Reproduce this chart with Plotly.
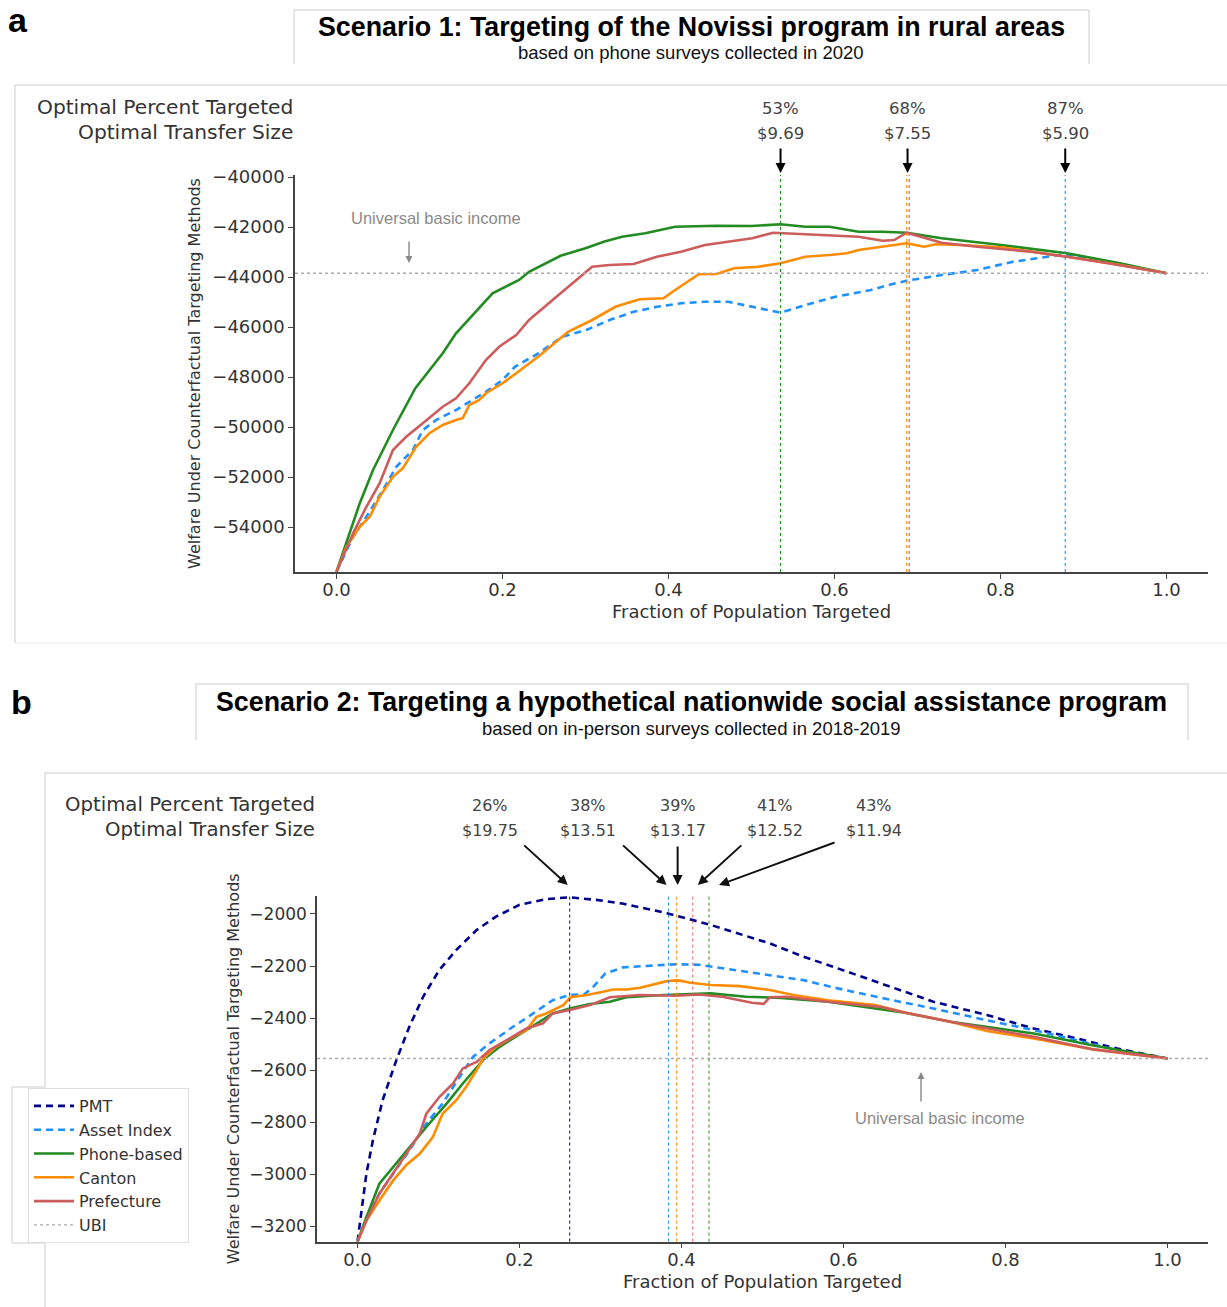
import plotly.graph_objects as go

W, H = 1227, 1307

# ---------------- Panel a data (Scenario 1) ----------------
a_phone_x = [0, 0.012, 0.028, 0.044, 0.068, 0.095, 0.128, 0.144, 0.164, 0.188, 0.220, 0.232, 0.270, 0.300, 0.322, 0.344, 0.372, 0.408, 0.458, 0.500, 0.535, 0.565, 0.594, 0.629, 0.658, 0.687, 0.729, 0.801, 0.880, 0.944, 1.0]
a_phone_y = [-55790, -54650, -53050, -51720, -50120, -48450, -47050, -46250, -45520, -44650, -44120, -43790, -43150, -42850, -42590, -42390, -42250, -41990, -41950, -41960, -41890, -41990, -41990, -42190, -42190, -42230, -42450, -42720, -43050, -43450, -43850]

a_pref_x = [0, 0.020, 0.036, 0.052, 0.068, 0.084, 0.104, 0.128, 0.144, 0.160, 0.180, 0.196, 0.2165, 0.232, 0.270, 0.308, 0.329, 0.358, 0.386, 0.415, 0.444, 0.472, 0.501, 0.526, 0.558, 0.601, 0.629, 0.658, 0.672, 0.687, 0.729, 0.772, 0.837, 0.880, 0.930, 1.0]
a_pref_y = [-55790, -54250, -53190, -52250, -50920, -50390, -49850, -49190, -48850, -48250, -47320, -46790, -46320, -45720, -44650, -43590, -43520, -43480, -43190, -42990, -42720, -42590, -42450, -42230, -42280, -42350, -42390, -42550, -42520, -42230, -42630, -42790, -42990, -43190, -43450, -43850]

a_canton_x = [0, 0.012, 0.028, 0.040, 0.052, 0.068, 0.080, 0.096, 0.112, 0.128, 0.144, 0.152, 0.160, 0.172, 0.180, 0.200, 0.2165, 0.2445, 0.279, 0.308, 0.336, 0.365, 0.394, 0.408, 0.4365, 0.458, 0.479, 0.508, 0.535, 0.565, 0.594, 0.615, 0.629, 0.658, 0.687, 0.708, 0.722, 0.751, 0.801, 0.880, 0.944, 1.0]
a_canton_y = [-55790, -54790, -53990, -53590, -52790, -51990, -51650, -50790, -50250, -49920, -49720, -49650, -49120, -48920, -48650, -48250, -47850, -47150, -46190, -45720, -45190, -44890, -44850, -44520, -43890, -43880, -43650, -43590, -43450, -43190, -43120, -43050, -42920, -42790, -42650, -42790, -42690, -42720, -42810, -43190, -43520, -43850]

a_asset_x = [0, 0.020, 0.036, 0.056, 0.072, 0.092, 0.104, 0.120, 0.144, 0.160, 0.180, 0.200, 0.215, 0.2435, 0.272, 0.301, 0.329, 0.358, 0.386, 0.415, 0.444, 0.472, 0.501, 0.535, 0.565, 0.601, 0.644, 0.665, 0.687, 0.729, 0.772, 0.815, 0.844, 0.872, 0.880, 0.940, 1.0]
a_asset_y = [-55790, -54390, -53590, -52520, -51590, -50920, -50120, -49720, -49320, -48990, -48590, -48120, -47590, -47050, -46390, -46120, -45720, -45390, -45190, -45050, -44990, -44990, -45190, -45430, -45120, -44790, -44520, -44320, -44150, -43920, -43720, -43390, -43250, -43120, -43130, -43480, -43850]

a_ubi = -43850
a_opt_names = ["Phone-based", "Canton", "Prefecture", "Asset Index"]
a_opt_x = [0.535, 0.687, 0.690, 0.878]
a_label_x = [0.535, 0.688, 0.878]
a_label_pct = ["53%", "68%", "87%"]
a_label_size = ["$9.69", "$7.55", "$5.90"]

a_yticks = [-54000, -52000, -50000, -48000, -46000, -44000, -42000, -40000]
a_yticktext = ["\u221254000", "\u221252000", "\u221250000", "\u221248000", "\u221246000", "\u221244000", "\u221242000", "\u221240000"]

# ---------------- Panel b data (Scenario 2) ----------------
b_pmt_x = [0, 0.0045, 0.011, 0.019, 0.031, 0.048, 0.064, 0.081, 0.101, 0.122, 0.147, 0.171, 0.200, 0.233, 0.262, 0.295, 0.327, 0.382, 0.436, 0.509, 0.5505, 0.5875, 0.641, 0.711, 0.777, 0.835, 0.888, 0.938, 1.0]
b_pmt_y = [-3258, -3151, -2997, -2869, -2715, -2561, -2433, -2318, -2215, -2138, -2062, -2010, -1965, -1943, -1936, -1946, -1960, -1997, -2042, -2113, -2164, -2203, -2260, -2337, -2388, -2440, -2478, -2517, -2555]

b_asset_x = [0, 0.011, 0.027, 0.044, 0.064, 0.085, 0.105, 0.126, 0.1425, 0.163, 0.192, 0.217, 0.241, 0.262, 0.280, 0.291, 0.306, 0.328, 0.3635, 0.393, 0.4215, 0.4505, 0.509, 0.5505, 0.5875, 0.649, 0.711, 0.777, 0.835, 0.888, 0.938, 1.0]
b_asset_y = [-3258, -3164, -3074, -2997, -2908, -2805, -2728, -2626, -2549, -2497, -2433, -2382, -2331, -2311, -2308, -2280, -2228, -2205, -2200, -2193, -2195, -2209, -2235, -2254, -2282, -2324, -2363, -2408, -2446, -2485, -2523, -2555]

b_phone_x = [0, 0.011, 0.027, 0.044, 0.064, 0.085, 0.110, 0.130, 0.155, 0.1755, 0.2085, 0.241, 0.262, 0.287, 0.3115, 0.332, 0.378, 0.436, 0.480, 0.523, 0.581, 0.625, 0.678, 0.732, 0.777, 0.835, 0.9085, 1.0]
b_phone_y = [-3258, -3164, -3036, -2972, -2895, -2818, -2728, -2651, -2561, -2510, -2446, -2382, -2363, -2346, -2337, -2320, -2311, -2305, -2318, -2322, -2337, -2357, -2380, -2414, -2433, -2459, -2505, -2555]

b_canton_x = [0, 0.011, 0.027, 0.044, 0.060, 0.077, 0.093, 0.105, 0.122, 0.134, 0.147, 0.155, 0.171, 0.192, 0.2085, 0.221, 0.233, 0.2455, 0.254, 0.263, 0.283, 0.303, 0.3155, 0.332, 0.349, 0.382, 0.396, 0.411, 0.436, 0.472, 0.509, 0.538, 0.581, 0.639, 0.678, 0.732, 0.777, 0.835, 0.9085, 1.0]
b_canton_y = [-3258, -3177, -3100, -3023, -2965, -2920, -2857, -2767, -2715, -2664, -2600, -2555, -2510, -2472, -2446, -2395, -2382, -2363, -2350, -2320, -2311, -2299, -2290, -2290, -2283, -2258, -2255, -2264, -2273, -2277, -2292, -2311, -2331, -2350, -2380, -2414, -2449, -2478, -2520, -2555]

b_pref_x = [0, 0.011, 0.027, 0.044, 0.060, 0.077, 0.085, 0.101, 0.118, 0.130, 0.147, 0.163, 0.188, 0.2085, 0.229, 0.241, 0.262, 0.287, 0.3115, 0.332, 0.349, 0.393, 0.4215, 0.4505, 0.487, 0.5015, 0.509, 0.530, 0.581, 0.6465, 0.678, 0.732, 0.777, 0.835, 0.9085, 1.0]
b_pref_y = [-3258, -3177, -3074, -2997, -2920, -2843, -2767, -2703, -2651, -2593, -2568, -2523, -2478, -2440, -2420, -2382, -2369, -2350, -2320, -2315, -2311, -2314, -2309, -2318, -2341, -2345, -2320, -2318, -2337, -2357, -2380, -2414, -2440, -2472, -2520, -2555]

b_ubi = -2555
b_opt_names = ["PMT", "Asset Index", "Canton", "Prefecture", "Phone-based"]
b_opt_x = [0.262, 0.384, 0.394, 0.414, 0.434]
b_label_pct = ["26%", "38%", "39%", "41%", "43%"]
b_label_size = ["$19.75", "$13.51", "$13.17", "$12.52", "$11.94"]

b_yticks = [-3200, -3000, -2800, -2600, -2400, -2200, -2000]
b_yticktext = ["\u22123200", "\u22123000", "\u22122800", "\u22122600", "\u22122400", "\u22122200", "\u22122000"]

x_ticks = [0.0, 0.2, 0.4, 0.6, 0.8, 1.0]
x_ticktext = ["0.0", "0.2", "0.4", "0.6", "0.8", "1.0"]

# ---------------- styles ----------------
COL = {
    "PMT": "#00008b",
    "Asset Index": "#1e90ff",
    "Phone-based": "#228b22",
    "Canton": "#ff8c00",
    "Prefecture": "#cd5c5c",
    "UBI": "#aaaaaa",
}
DASH = {"PMT": "7px,5px", "Asset Index": "7px,5px", "Phone-based": "solid",
        "Canton": "solid", "Prefecture": "solid", "UBI": "dot"}
DV = "DejaVu Sans, sans-serif"
AR = "Liberation Sans, Arial, sans-serif"
TXT = "#333333"


def pxx(p):
    return p / W


def pxy(p):
    return 1 - p / H


fig = go.Figure()

# panel a curves
for name, xs, ys in [("Asset Index", a_asset_x, a_asset_y),
                     ("Phone-based", a_phone_x, a_phone_y),
                     ("Canton", a_canton_x, a_canton_y),
                     ("Prefecture", a_pref_x, a_pref_y)]:
    fig.add_trace(go.Scatter(x=xs, y=ys, mode="lines", name=name, showlegend=False,
                             line=dict(color=COL[name], width=2.6, dash=DASH[name]),
                             xaxis="x", yaxis="y"))
fig.add_trace(go.Scatter(x=[-0.05, 1.05], y=[a_ubi, a_ubi], mode="lines", showlegend=False,
                         line=dict(color=COL["UBI"], width=1.3, dash="dot"), xaxis="x", yaxis="y"))

# panel b curves
for name, xs, ys in [("PMT", b_pmt_x, b_pmt_y),
                     ("Asset Index", b_asset_x, b_asset_y),
                     ("Phone-based", b_phone_x, b_phone_y),
                     ("Canton", b_canton_x, b_canton_y),
                     ("Prefecture", b_pref_x, b_pref_y)]:
    fig.add_trace(go.Scatter(x=xs, y=ys, mode="lines", name=name,
                             line=dict(color=COL[name], width=2.6, dash=DASH[name]),
                             xaxis="x2", yaxis="y2"))
fig.add_trace(go.Scatter(x=[-0.05, 1.05], y=[b_ubi, b_ubi], mode="lines", name="UBI",
                         line=dict(color=COL["UBI"], width=1.3, dash="dot"), xaxis="x2", yaxis="y2"))

shapes = []
# optimal vertical lines
for name, xv in zip(a_opt_names, a_opt_x):
    shapes.append(dict(type="line", xref="x", yref="y domain", x0=xv, x1=xv, y0=0, y1=1,
                       line=dict(color=COL[name], width=1.1, dash="dot")))
for name, xv in zip(b_opt_names, b_opt_x):
    shapes.append(dict(type="line", xref="x2", yref="y2 domain", x0=xv, x1=xv, y0=0, y1=1,
                       line=dict(color=COL[name], width=1.0, dash="dot")))


def seg(x0, y0, x1, y1, color="#cccccc", width=1):
    shapes.append(dict(type="line", xref="paper", yref="paper", x0=pxx(x0), y0=pxy(y0),
                       x1=pxx(x1), y1=pxy(y1), line=dict(color=color, width=width)))


# title boxes
seg(294, 10, 1089, 10); seg(294, 10, 294, 64); seg(1089, 10, 1089, 64)
seg(196, 684, 1188, 684); seg(196, 684, 196, 740); seg(1188, 684, 1188, 740)
# panel frames
seg(15, 85, 1227, 85); seg(15, 85, 15, 643); seg(15, 643, 1227, 643, color="#e6e6e6")
seg(45, 773, 1227, 773); seg(45, 773, 45, 1087); seg(45, 1243, 45, 1307)
seg(12, 1087, 12, 1243); seg(12, 1087, 45, 1087); seg(12, 1243, 45, 1243)

ann = []
# panel letters and titles
ann.append(dict(text="<b>a</b>", x=pxx(18), y=pxy(20), xref="paper", yref="paper", showarrow=False,
                font=dict(family=AR, size=34, color="#000"), xanchor="center", yanchor="middle"))
ann.append(dict(text="<b>b</b>", x=pxx(21), y=pxy(702), xref="paper", yref="paper", showarrow=False,
                font=dict(family=AR, size=34, color="#000"), xanchor="center", yanchor="middle"))
ann.append(dict(text="<b>Scenario 1: Targeting of the Novissi program in rural areas</b>",
                x=pxx(691), y=pxy(27), xref="paper", yref="paper", showarrow=False,
                font=dict(family=AR, size=26.8, color="#000"), xanchor="center", yanchor="middle"))
ann.append(dict(text="based on phone surveys collected in 2020",
                x=pxx(691), y=pxy(53), xref="paper", yref="paper", showarrow=False,
                font=dict(family=AR, size=18.5, color="#111"), xanchor="center", yanchor="middle"))
ann.append(dict(text="<b>Scenario 2: Targeting a hypothetical nationwide social assistance program</b>",
                x=pxx(691), y=pxy(702), xref="paper", yref="paper", showarrow=False,
                font=dict(family=AR, size=26.8, color="#000"), xanchor="center", yanchor="middle"))
ann.append(dict(text="based on in-person surveys collected in 2018-2019",
                x=pxx(691), y=pxy(728), xref="paper", yref="paper", showarrow=False,
                font=dict(family=AR, size=18.5, color="#111"), xanchor="center", yanchor="middle"))

# row headers
for yy, txt in [(107, "Optimal Percent Targeted"), (132, "Optimal Transfer Size")]:
    ann.append(dict(text=txt, x=pxx(295), y=pxy(yy), xref="paper", yref="paper", showarrow=False,
                    font=dict(family=DV, size=20.2, color=TXT), xanchor="right", yanchor="middle"))
for yy, txt in [(804, "Optimal Percent Targeted"), (829, "Optimal Transfer Size")]:
    ann.append(dict(text=txt, x=pxx(317), y=pxy(yy), xref="paper", yref="paper", showarrow=False,
                    font=dict(family=DV, size=19.7, color=TXT), xanchor="right", yanchor="middle"))

# panel a optimal labels and arrows
for xv, p, s in zip(a_label_x, a_label_pct, a_label_size):
    ann.append(dict(text=p, x=xv, xref="x", y=pxy(108), yref="paper", showarrow=False,
                    font=dict(family=DV, size=16.5, color="#444"), xanchor="center", yanchor="middle"))
    ann.append(dict(text=s, x=xv, xref="x", y=pxy(133), yref="paper", showarrow=False,
                    font=dict(family=DV, size=16.5, color="#444"), xanchor="center", yanchor="middle"))
    ann.append(dict(text="", x=xv, xref="x", y=pxy(173), yref="paper", showarrow=True,
                    ax=0, ay=-26, arrowhead=2, arrowsize=1, arrowwidth=2, arrowcolor="#000"))

# panel b optimal labels and arrows
b_label_px = [489.5, 588, 678, 775, 873.5]
b_head_shift = [-2, -2, 1, 5, 10]
b_tail = [(-45, -41), (-45, -41), (0, -40), (45, -41), (117, -43)]
for lx, p, s in zip(b_label_px, b_label_pct, b_label_size):
    ann.append(dict(text=p, x=pxx(lx), xref="paper", y=pxy(805), yref="paper", showarrow=False,
                    font=dict(family=DV, size=16, color="#444"), xanchor="center", yanchor="middle"))
    ann.append(dict(text=s, x=pxx(lx), xref="paper", y=pxy(830), yref="paper", showarrow=False,
                    font=dict(family=DV, size=16, color="#444"), xanchor="center", yanchor="middle"))
for xv, sh, (tx, ty) in zip(b_opt_x, b_head_shift, b_tail):
    ann.append(dict(text="", x=xv, xref="x2", y=pxy(885), yref="paper", xshift=sh, showarrow=True,
                    ax=tx, ay=ty, arrowhead=2, arrowsize=1, arrowwidth=2, arrowcolor="#111"))

# UBI notes
ann.append(dict(text="Universal basic income", x=pxx(436), y=pxy(218), xref="paper", yref="paper",
                showarrow=False, font=dict(family=AR, size=16.5, color="#8a8a8a"),
                xanchor="center", yanchor="middle"))
ann.append(dict(text="", x=pxx(409), y=pxy(263), xref="paper", yref="paper", showarrow=True,
                ax=0, ay=-23, arrowhead=2, arrowsize=1, arrowwidth=1.4, arrowcolor="#888"))
ann.append(dict(text="Universal basic income", x=pxx(940), y=pxy(1118), xref="paper", yref="paper",
                showarrow=False, font=dict(family=AR, size=16.5, color="#8a8a8a"),
                xanchor="center", yanchor="middle"))
ann.append(dict(text="", x=pxx(921), y=pxy(1072), xref="paper", yref="paper", showarrow=True,
                ax=0, ay=31, arrowhead=2, arrowsize=1, arrowwidth=1.4, arrowcolor="#888"))

axis_common = dict(showgrid=False, zeroline=False, showline=True, linecolor="#444", linewidth=1.5,
                   ticks="outside", ticklen=5, tickwidth=1.3, tickcolor="#444",
                   tickfont=dict(family=DV, size=18, color=TXT), automargin=False)

fig.update_layout(
    width=W, height=H, margin=dict(l=0, r=0, t=0, b=0, autoexpand=False),
    paper_bgcolor="white", plot_bgcolor="white",
    xaxis=dict(**axis_common, domain=[pxx(295), pxx(1208)], range=[-0.05, 1.05], anchor="y",
               tickvals=x_ticks, ticktext=x_ticktext, ticklabelstandoff=-4,
               title=dict(text="Fraction of Population Targeted", standoff=6,
                          font=dict(family=DV, size=18, color=TXT))),
    yaxis=dict(**axis_common, domain=[pxy(572), pxy(175)], range=[-55800, -39920], anchor="x",
               tickvals=a_yticks, ticktext=a_yticktext,
               title=dict(text="Welfare Under Counterfactual Targeting Methods", standoff=8,
                          font=dict(family=DV, size=16, color=TXT))),
    xaxis2=dict(**axis_common, domain=[pxx(317), pxx(1208)], range=[-0.05, 1.05], anchor="y2",
                tickvals=x_ticks, ticktext=x_ticktext, ticklabelstandoff=-4,
                title=dict(text="Fraction of Population Targeted", standoff=6,
                           font=dict(family=DV, size=18, color=TXT))),
    yaxis2=dict(**axis_common, domain=[pxy(1241.6), pxy(896)], range=[-3258, -1931], anchor="x2",
                tickvals=b_yticks, ticktext=b_yticktext,
                title=dict(text="Welfare Under Counterfactual Targeting Methods", standoff=6,
                           font=dict(family=DV, size=16, color=TXT))),
    legend=dict(x=pxx(28), y=pxy(1088), xanchor="left", yanchor="top", bgcolor="white",
                bordercolor="#dddddd", borderwidth=1, font=dict(family=DV, size=16, color=TXT),
                traceorder="normal", tracegroupgap=0, itemwidth=40),
    shapes=shapes, annotations=ann, showlegend=True,
)
fig.update_yaxes(tickfont=dict(size=17), selector=dict(anchor="x2"))

post = ("document.body.style.margin='0';"
        "var d=document.getElementById('{plot_id}');"
        "d.style.position='absolute';d.style.left='0px';d.style.top='0px';")
fig.write_html("out.html", post_script=post, config={"displayModeBar": False})
